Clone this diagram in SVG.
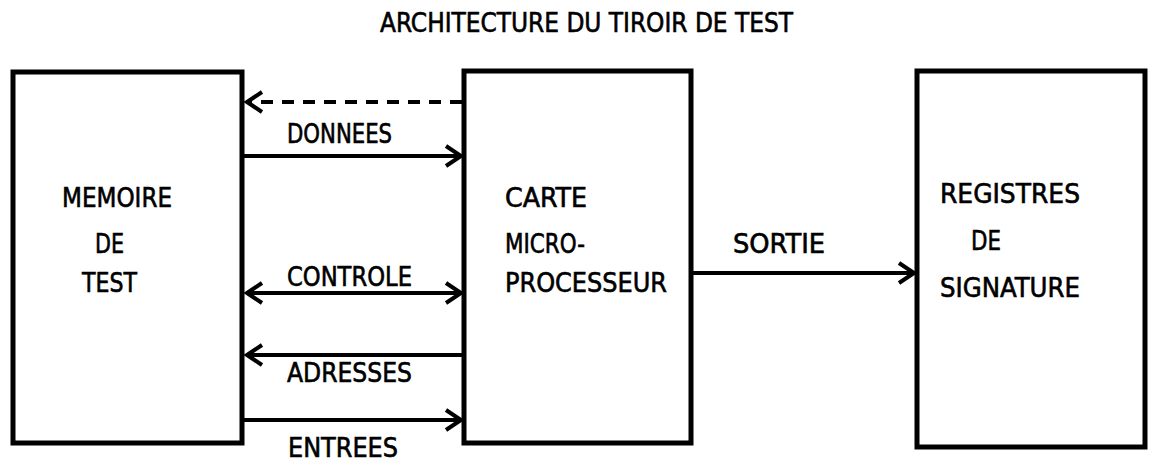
<svg xmlns="http://www.w3.org/2000/svg" width="1153" height="462" viewBox="0 0 1153 462">
  <style>
    .box { fill: #fff; stroke: #000; stroke-width: 5; }
    .lbl { font-family: "DejaVu Sans Condensed", "DejaVu Sans", sans-serif; font-size: 27px; fill: #000; stroke: #000; stroke-width: 0.6; }
    .wire { stroke: #000; stroke-width: 4; fill: none; }
    .dash { stroke-dasharray: 12 9; }
  </style>
  <defs>
    <marker id="chev" markerUnits="userSpaceOnUse" markerWidth="24" markerHeight="24" viewBox="-20 -12 24 24" refX="0" refY="0" orient="auto-start-reverse">
      <path d="M -15 -10 L 0 0 L -15 10" fill="none" stroke="#000" stroke-width="4" stroke-linejoin="miter"/>
    </marker>
  </defs>
  <rect width="1153" height="462" fill="#fff"/>

  <text class="lbl" x="380" y="32" textLength="413" lengthAdjust="spacingAndGlyphs">ARCHITECTURE DU TIROIR DE TEST</text>

  <g id="memoire">
    <rect class="box" x="13" y="72" width="229" height="371"/>
    <text class="lbl" x="62" y="207" textLength="110" lengthAdjust="spacingAndGlyphs">MEMOIRE</text>
    <text class="lbl" x="95" y="253" textLength="29" lengthAdjust="spacingAndGlyphs">DE</text>
    <text class="lbl" x="82" y="292" textLength="55" lengthAdjust="spacingAndGlyphs">TEST</text>
  </g>

  <g id="carte">
    <rect class="box" x="464" y="71" width="227" height="372"/>
    <text class="lbl" x="505" y="207" textLength="82" lengthAdjust="spacingAndGlyphs">CARTE</text>
    <text class="lbl" x="505" y="253" textLength="80" lengthAdjust="spacingAndGlyphs">MICRO-</text>
    <text class="lbl" x="505" y="292" textLength="162" lengthAdjust="spacingAndGlyphs">PROCESSEUR</text>
  </g>

  <g id="registres">
    <rect class="box" x="917" y="71" width="228" height="376"/>
    <text class="lbl" x="940" y="203" textLength="140" lengthAdjust="spacingAndGlyphs">REGISTRES</text>
    <text class="lbl" x="971" y="250" textLength="30" lengthAdjust="spacingAndGlyphs">DE</text>
    <text class="lbl" x="940" y="297" textLength="140" lengthAdjust="spacingAndGlyphs">SIGNATURE</text>
  </g>

  <g id="connectors">
    <line class="wire dash" x1="462" y1="102" x2="247" y2="102" marker-end="url(#chev)"/>
    <line class="wire" x1="244" y1="156" x2="461" y2="156" marker-end="url(#chev)"/>
    <line class="wire" x1="247" y1="293" x2="461" y2="293" marker-start="url(#chev)" marker-end="url(#chev)"/>
    <line class="wire" x1="462" y1="355" x2="247" y2="355" marker-end="url(#chev)"/>
    <line class="wire" x1="244" y1="420" x2="461" y2="420" marker-end="url(#chev)"/>
    <line class="wire" x1="693" y1="273" x2="914" y2="273" marker-end="url(#chev)"/>

    <text class="lbl" x="287" y="143" textLength="105" lengthAdjust="spacingAndGlyphs">DONNEES</text>
    <text class="lbl" x="287" y="286" textLength="125" lengthAdjust="spacingAndGlyphs">CONTROLE</text>
    <text class="lbl" x="287" y="382" textLength="125" lengthAdjust="spacingAndGlyphs">ADRESSES</text>
    <text class="lbl" x="288" y="457" textLength="110" lengthAdjust="spacingAndGlyphs">ENTREES</text>
    <text class="lbl" x="733" y="253" textLength="92" lengthAdjust="spacingAndGlyphs">SORTIE</text>
  </g>
</svg>
